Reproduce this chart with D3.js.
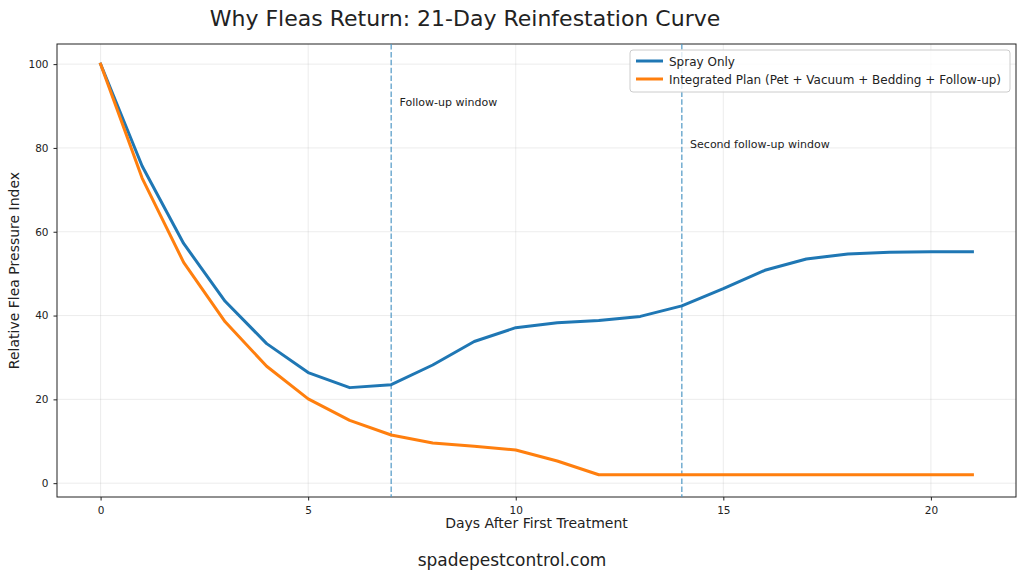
<!DOCTYPE html>
<html>
<head>
<meta charset="utf-8">
<script src="https://cdn.jsdelivr.net/npm/d3@7"></script>
<style>
  body { margin: 0; background: #fff; }
  text { font-family: "DejaVu Sans", sans-serif; fill: #222; }
</style>
</head>
<body>
<svg id="chart" width="1024" height="586"></svg>
<script>
// data
let days = d3.range(0, 22);
let sprayOnly = [100, 75.7, 57.2, 43.4, 33.3, 26.4, 22.8, 23.5, 28.2, 33.8, 37.1, 38.3, 38.8, 39.8, 42.3, 46.4, 50.8, 53.5, 54.7, 55.1, 55.2, 55.2];
let integrated = [100, 72.8, 52.7, 38.5, 27.9, 20.1, 15.0, 11.5, 9.6, 8.8, 7.9, 5.3, 2.0, 2.0, 2.0, 2.0, 2.0, 2.0, 2.0, 2.0, 2.0, 2.0];
let seriesNames = ["Spray Only", "Integrated Plan (Pet + Vacuum + Bedding + Follow-up)"];
let xTicks = [0, 5, 10, 15, 20];
let yTicks = [0, 20, 40, 60, 80, 100];
let windows = [{ day: 7, label: "Follow-up window", y: 90 }, { day: 14, label: "Second follow-up window", y: 80 }];

let svg = d3.select('#chart');
let pL = 57, pR = 1016, pT = 44, pB = 497;

let x = d3.scaleLinear().domain([-1.05, 22.05]).range([pL, pR]);
let y = d3.scaleLinear().domain([-3.3, 104.8]).range([pB, pT]);

// grid
svg.append('g').selectAll('line.gx')
    .data(xTicks).enter().append('line')
    .attr('x1', d => x(d)).attr('x2', d => x(d))
    .attr('y1', pT).attr('y2', pB)
    .attr('stroke', '#b0b0b0').attr('stroke-opacity', 0.3).attr('stroke-width', 0.8);
svg.append('g').selectAll('line.gy')
    .data(yTicks).enter().append('line')
    .attr('y1', d => y(d)).attr('y2', d => y(d))
    .attr('x1', pL).attr('x2', pR)
    .attr('stroke', '#b0b0b0').attr('stroke-opacity', 0.3).attr('stroke-width', 0.8);

// axes
let xAxis = svg.append('g')
    .attr('transform', `translate(0,${pB})`)
    .call(d3.axisBottom(x).tickValues(xTicks).tickSize(3.5).tickPadding(6));
let yAxis = svg.append('g')
    .attr('transform', `translate(${pL},0)`)
    .call(d3.axisLeft(y).tickValues(yTicks).tickSize(3.5).tickPadding(5));
[xAxis, yAxis].forEach(a => {
    a.select('.domain').remove();
    a.selectAll('text').style('font-size', '10.5px').style('font-family', '"DejaVu Sans", sans-serif').attr('fill', '#222');
    a.selectAll('line').attr('stroke', '#222');
});

svg.append('rect')
    .attr('x', pL).attr('y', pT)
    .attr('width', pR - pL).attr('height', pB - pT)
    .attr('fill', 'none').attr('stroke', '#222').attr('stroke-width', 1);

// follow-up windows
windows.forEach(w => {
    svg.append('line')
        .attr('x1', x(w.day)).attr('x2', x(w.day))
        .attr('y1', pT).attr('y2', pB)
        .attr('stroke', '#4f97c4').attr('stroke-opacity', 0.8)
        .attr('stroke-width', 1.5).attr('stroke-dasharray', '5.5,2.4');
    svg.append('text')
        .attr('x', x(w.day + 0.2)).attr('y', y(w.y))
        .style('font-size', '11px')
        .text(w.label);
});

// lines
let line = d3.line().x((d, i) => x(days[i])).y(d => y(d));
let colors = ['#1f77b4', '#ff7f0e'];
[sprayOnly, integrated].forEach((s, k) => {
    svg.append('path')
        .datum(s)
        .attr('d', line)
        .attr('fill', 'none')
        .attr('stroke', colors[k])
        .attr('stroke-width', 3)
        .attr('stroke-linejoin', 'round')
        .attr('stroke-linecap', 'square');
});

// legend
let lg = svg.append('g').attr('transform', 'translate(630,50)');
lg.append('rect')
    .attr('width', 380).attr('height', 42).attr('rx', 3)
    .attr('fill', '#fff').attr('fill-opacity', 0.8)
    .attr('stroke', '#ccc');
seriesNames.forEach((n, i) => {
    lg.append('line')
        .attr('x1', 6).attr('x2', 33)
        .attr('y1', 11 + i * 18).attr('y2', 11 + i * 18)
        .attr('stroke', colors[i]).attr('stroke-width', 3);
    lg.append('text')
        .attr('x', 39).attr('y', 15.5 + i * 18)
        .style('font-size', '12px')
        .text(n);
});

// titles
svg.append('text')
    .attr('x', 465).attr('y', 26)
    .attr('text-anchor', 'middle')
    .style('font-size', '22px')
    .text('Why Fleas Return: 21-Day Reinfestation Curve');
svg.append('text')
    .attr('x', (pL + pR) / 2).attr('y', 528)
    .attr('text-anchor', 'middle')
    .style('font-size', '14px')
    .text('Days After First Treatment');
svg.append('text')
    .attr('transform', `translate(19,${(pT + pB) / 2}) rotate(-90)`)
    .attr('text-anchor', 'middle')
    .style('font-size', '14px')
    .text('Relative Flea Pressure Index');
svg.append('text')
    .attr('x', 512).attr('y', 566)
    .attr('text-anchor', 'middle')
    .style('font-size', '17px')
    .text('spadepestcontrol.com');
</script>
</body>
</html>
